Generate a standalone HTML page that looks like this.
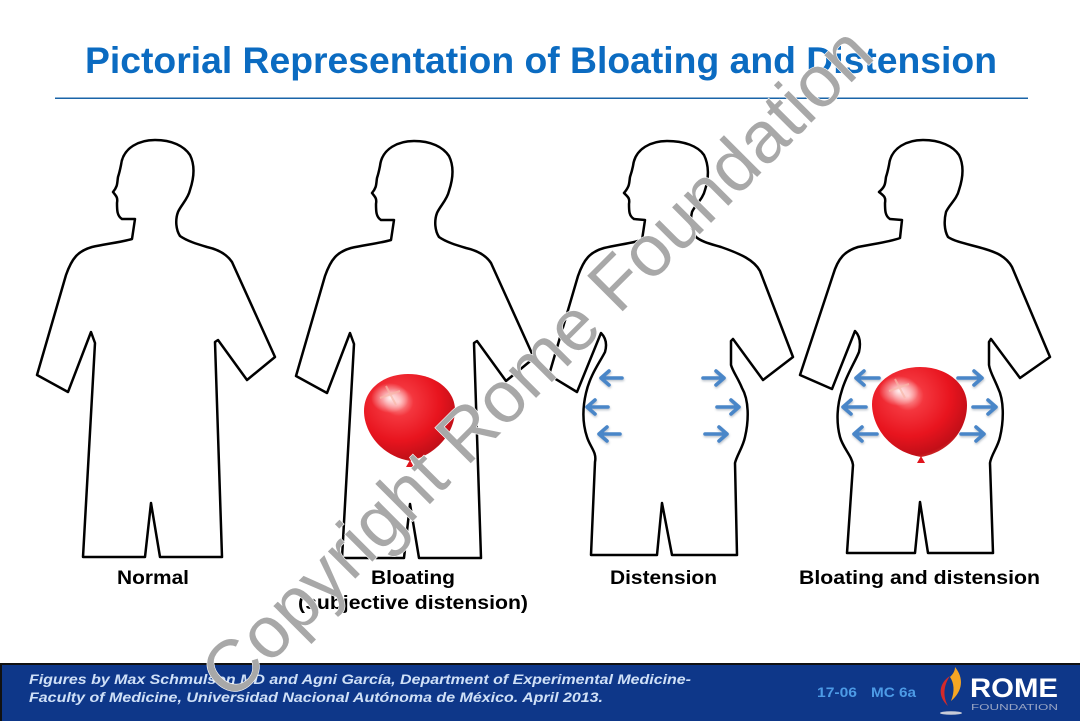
<!DOCTYPE html>
<html>
<head>
<meta charset="utf-8">
<style>
  html,body{margin:0;padding:0;background:#fff;}
  body{width:1080px;height:721px;overflow:hidden;}
  svg{display:block;}
  .lbl{font-family:"Liberation Sans",Arial,sans-serif;font-weight:bold;font-size:19px;fill:#000;}
</style>
</head>
<body>
<svg width="1080" height="721" viewBox="0 0 1080 721" xmlns="http://www.w3.org/2000/svg">
  <defs>
    <radialGradient id="bal" cx="0.38" cy="0.32" r="0.75">
      <stop offset="0" stop-color="#ffb0b0"/>
      <stop offset="0.22" stop-color="#f4363e"/>
      <stop offset="0.6" stop-color="#e8141e"/>
      <stop offset="0.88" stop-color="#c20f18"/>
      <stop offset="1" stop-color="#d84838"/>
    </radialGradient>
    <radialGradient id="hl" cx="0.5" cy="0.5" r="0.5">
      <stop offset="0" stop-color="#ffffff" stop-opacity="0.9"/>
      <stop offset="1" stop-color="#ffffff" stop-opacity="0"/>
    </radialGradient>
    <filter id="sh" x="-30%" y="-50%" width="160%" height="200%">
      <feDropShadow dx="0.5" dy="1.5" stdDeviation="1" flood-color="#6a7a90" flood-opacity="0.45"/>
    </filter>
  </defs>

  <!-- Title -->
  <text x="85" y="73" font-family="Liberation Sans, Arial, sans-serif" font-weight="bold" font-size="37" fill="#0b6bc1" textLength="912" lengthAdjust="spacingAndGlyphs">Pictorial Representation of Bloating and Distension</text>
  <rect x="55" y="97.5" width="973" height="1.5" fill="#1a64a8"/>

  <!-- Figures -->
  <g fill="#fff" stroke="#000" stroke-width="2.5" stroke-linejoin="round" stroke-linecap="round">
    <path d="M155,140 C140,140 123,147 121,165 C120,170 119,174 118,177 C117,183 118,186 113,192 C116,196 118,197 117,203 C117,210 117,216 122,219 L135,219 L132,239 C122,242 105,244 92,247 C78,251 72,258 66,275 L37,375 L68,392 L91,332 L95,343 L83,557 L145,557 L151,503 L160,557 L222,557 L215,342 L218,340 L247,380 L275,357 L232,262 C226,253 216,249 207,247 C197,244 187,241 180,236 C176,230 175,220 178,212 C181,205 188,199 190,190 C194,178 195,165 190,155 C184,146 172,140 155,140 Z"/>
    <path transform="translate(259,1)" d="M155,140 C140,140 123,147 121,165 C120,170 119,174 118,177 C117,183 118,186 113,192 C116,196 118,197 117,203 C117,210 117,216 122,219 L135,219 L132,239 C122,242 105,244 92,247 C78,251 72,258 66,275 L37,375 L68,392 L91,332 L95,343 L83,557 L145,557 L151,503 L160,557 L222,557 L215,342 L218,340 L247,380 L275,357 L232,262 C226,253 216,249 207,247 C197,244 187,241 180,236 C176,230 175,220 178,212 C181,205 188,199 190,190 C194,178 195,165 190,155 C184,146 172,140 155,140 Z"/>
    <path d="M667,141 C652,141 635,148 633,166 C632,171 631,174 630,177 C629,183 630,186 624,193 C628,197 630,198 629,204 C629,211 629,216 634,219 L645,220 L642,240 C632,243 617,245 604,248 C590,252 584,259 578,276 L549,375 L577,392 L601,333 C606,338 607,345 605,352 C600,362 590,375 586,393 C582,410 583,425 587,437 C590,447 597,452 595,462 L591,555 L657,555 L662,503 L672,555 L737,555 L735,463 C737,455 743,447 745,437 C749,420 749,400 742,388 C738,378 733,372 731,365 L731,341 L733,339 L763,380 L793,357 L760,271 C754,260 741,254 721,247 C711,244 702,242 696,237 C691,230 690,220 692,212 C695,205 703,199 705,190 C709,178 709,165 704,155 C698,146 684,141 667,141 Z"/>
    <path d="M923,140 C908,140 891,147 889,165 C888,170 887,174 886,177 C885,183 886,186 879,192 C884,196 886,197 885,203 C885,210 885,216 890,219 L902,220 L900,238 C890,242 872,244 858,247 C845,251 838,258 833,275 L800,375 L832,389 L855,331 C860,336 861,343 859,352 C855,362 846,376 842,390 C837,405 836,422 840,437 C843,448 852,456 853,465 L847,553 L915,553 L920,502 L928,553 L993,553 L990,463 C991,455 998,447 1000,437 C1004,420 1004,400 998,388 C994,378 990,372 989,365 L989,342 L991,339 L1020,378 L1050,357 L1012,267 C1006,256 995,252 985,249 C972,245 955,242 948,237 C944,230 944,220 946,212 C949,205 957,199 959,190 C963,178 964,165 959,155 C953,146 940,140 923,140 Z"/>
  </g>

  <!-- Balloon 1 -->
  <g>
    <path d="M410,461 C381,456 364,432 364,411 C364,388 385,374 408,374 C435,374 455,390 455,410 C455,433 436,455 410,461 Z" fill="url(#bal)"/>
    <ellipse cx="390" cy="398" rx="19" ry="15" fill="url(#hl)"/>
    <path d="M386,386 L396,405 M380,398 L400,391" stroke="#f8b8a8" stroke-width="2" opacity="0.7"/>
    <path d="M410,460 L406,467 L414,467 Z" fill="#e0141c"/>
  </g>
  <!-- Balloon 2 -->
  <g>
    <path d="M921,457 C889,452 872,426 872,404 C872,382 895,367 920,367 C946,367 967,383 967,405 C967,429 950,452 921,457 Z" fill="url(#bal)"/>
    <ellipse cx="899" cy="391" rx="20" ry="15" fill="url(#hl)"/>
    <path d="M895,379 L905,398 M889,391 L909,384" stroke="#f8b8a8" stroke-width="2" opacity="0.7"/>
    <path d="M921,456 L917,463 L925,463 Z" fill="#e0141c"/>
  </g>

  <!-- Arrows -->
  <g fill="none" stroke="#4a86c8" stroke-width="3.6" stroke-linecap="round" stroke-linejoin="round" filter="url(#sh)">
    <path d="M622,378 H601 M609,371 L601,378 L609,385"/>
    <path d="M608,407 H587 M595,400 L587,407 L595,414"/>
    <path d="M620,434 H599 M607,427 L599,434 L607,441"/>
    <path d="M879,378 H856 M864,371 L856,378 L864,385"/>
    <path d="M866,407 H843 M851,400 L843,407 L851,414"/>
    <path d="M877,434 H854 M862,427 L854,434 L862,441"/>
    <path d="M703,378 H724 M716,371 L724,378 L716,385"/>
    <path d="M717,407 H739 M731,400 L739,407 L731,414"/>
    <path d="M705,434 H727 M719,427 L727,434 L719,441"/>
    <path d="M958,378 H982 M974,371 L982,378 L974,385"/>
    <path d="M973,407 H996 M988,400 L996,407 L988,414"/>
    <path d="M961,434 H984 M976,427 L984,434 L976,441"/>
  </g>

  <!-- Labels -->
  <text class="lbl" x="117" y="584" textLength="72" lengthAdjust="spacingAndGlyphs">Normal</text>
  <text class="lbl" x="371" y="584" textLength="84" lengthAdjust="spacingAndGlyphs">Bloating</text>
  <text class="lbl" x="298" y="609" textLength="230" lengthAdjust="spacingAndGlyphs">(subjective distension)</text>
  <text class="lbl" x="610" y="584" textLength="107" lengthAdjust="spacingAndGlyphs">Distension</text>
  <text class="lbl" x="799" y="584" textLength="241" lengthAdjust="spacingAndGlyphs">Bloating and distension</text>

  <!-- Footer -->
  <rect x="0" y="663" width="1080" height="58" fill="#0e3789"/>
  <rect x="0" y="663" width="1080" height="2" fill="#111"/>
  <rect x="0" y="663" width="2" height="58" fill="#111"/>
  <g font-family="Liberation Sans, Arial, sans-serif" font-weight="bold" font-style="italic" font-size="14" fill="#cfe0f7">
    <text x="29" y="684" textLength="662" lengthAdjust="spacingAndGlyphs">Figures by Max Schmulson MD and Agni García, Department of Experimental Medicine-</text>
    <text x="29" y="702" textLength="574" lengthAdjust="spacingAndGlyphs">Faculty of Medicine, Universidad Nacional Autónoma de México. April 2013.</text>
  </g>
  <g font-family="Liberation Sans, Arial, sans-serif" font-weight="bold" font-size="14" fill="#4d9be6">
    <text x="817" y="697" textLength="40" lengthAdjust="spacingAndGlyphs">17-06</text>
    <text x="871" y="697" textLength="45" lengthAdjust="spacingAndGlyphs">MC 6a</text>
  </g>
  <!-- Logo -->
  <path d="M950,676 C939,683 937,696 948,706 C943,697 943,686 950,676 Z" fill="#d42a2a"/>
  <path d="M955,667 C964,678 963,691 951,701 C955,691 954,683 950,677 C953,674 955,671 955,667 Z" fill="#f5a623"/>
  <ellipse cx="951" cy="713" rx="11" ry="1.8" fill="#c8ccd8"/>
  <text x="970" y="697" font-family="Liberation Sans, Arial, sans-serif" font-weight="bold" font-size="27" fill="#ffffff" textLength="88" lengthAdjust="spacingAndGlyphs">ROME</text>
  <text x="971" y="710" font-family="Liberation Sans, Arial, sans-serif" font-size="8.5" fill="#9aa6c4" textLength="87" lengthAdjust="spacingAndGlyphs">FOUNDATION</text>

  <!-- Watermark -->
  <text transform="translate(554,380) rotate(-45)" x="0" y="0" text-anchor="middle" font-family="Liberation Sans, Arial, sans-serif" font-size="73" fill="#a8a8a8" stroke="#ffffff" stroke-width="1.2" paint-order="stroke">Copyright Rome Foundation</text>
</svg>
</body>
</html>
